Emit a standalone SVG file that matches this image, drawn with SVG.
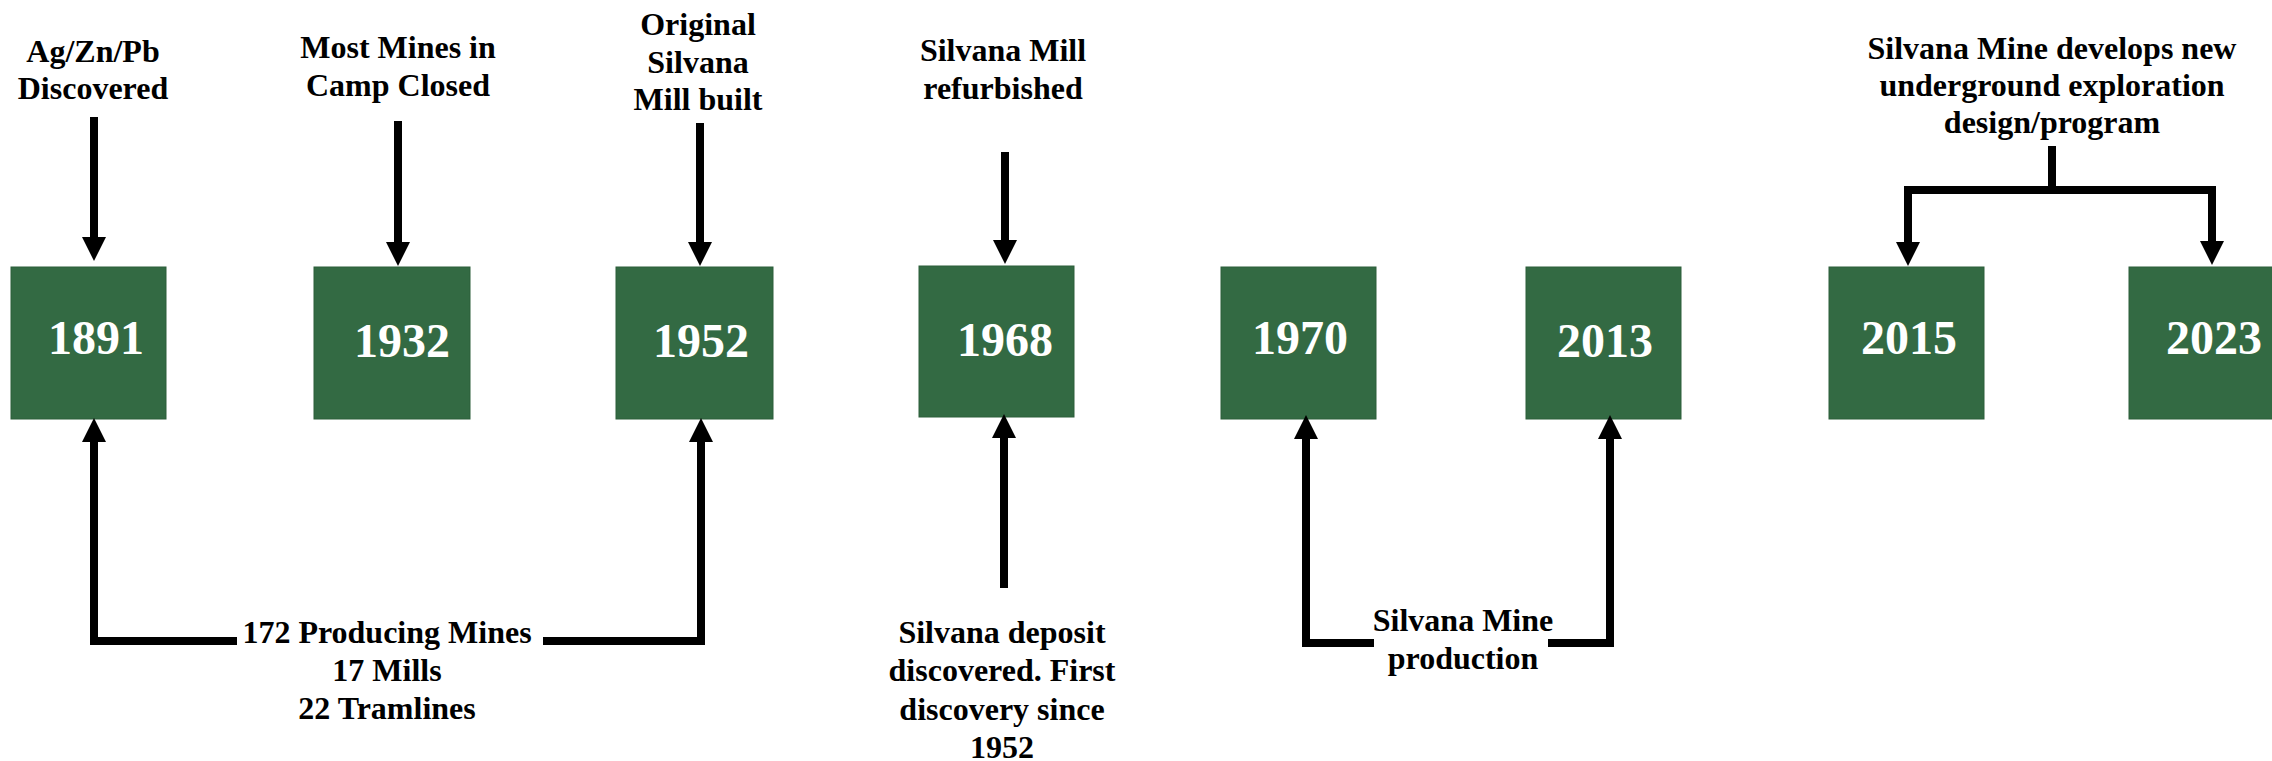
<svg xmlns="http://www.w3.org/2000/svg" width="2272" height="761" viewBox="0 0 2272 761">
<style>
.box{fill:#336a43;stroke:#2c5e3a;stroke-width:1}
.yr{font-family:"Liberation Serif","Times New Roman",Tinos,"DejaVu Serif",serif;font-weight:bold;font-size:48px;fill:#ffffff;text-anchor:middle}
.lbl{font-family:"Liberation Serif","Times New Roman",Tinos,"DejaVu Serif",serif;font-weight:bold;font-size:32px;fill:#000000;text-anchor:middle}
.con{fill:none;stroke:#000000;stroke-width:8;stroke-linejoin:miter;stroke-linecap:butt}
</style>
<defs>
<marker id="ah" markerUnits="userSpaceOnUse" viewBox="0 0 24 24" markerWidth="24" markerHeight="24" refX="1" refY="12" orient="auto">
<path d="M0,0 L24,12 L0,24 Z" fill="#000000"/>
</marker>
</defs>
<rect width="2272" height="761" fill="#ffffff"/>

<g id="node-1891"><rect class="box" x="11" y="267" width="155" height="152"/><text class="yr" x="96" y="354">1891</text></g>
<g id="node-1932"><rect class="box" x="314" y="267" width="156" height="152"/><text class="yr" x="402" y="357">1932</text></g>
<g id="node-1952"><rect class="box" x="616" y="267" width="157" height="152"/><text class="yr" x="701" y="357">1952</text></g>
<g id="node-1968"><rect class="box" x="919" y="266" width="155" height="151"/><text class="yr" x="1005" y="356">1968</text></g>
<g id="node-1970"><rect class="box" x="1221" y="267" width="155" height="152"/><text class="yr" x="1300" y="354">1970</text></g>
<g id="node-2013"><rect class="box" x="1526" y="267" width="155" height="152"/><text class="yr" x="1605" y="357">2013</text></g>
<g id="node-2015"><rect class="box" x="1829" y="267" width="155" height="152"/><text class="yr" x="1909" y="354">2015</text></g>
<g id="node-2023"><rect class="box" x="2129" y="267" width="155" height="152"/><text class="yr" x="2214" y="354">2023</text></g>

<g id="label-1891"><text class="lbl" x="93" y="62">Ag/Zn/Pb</text><text class="lbl" x="93" y="99">Discovered</text></g>
<g id="label-1932"><text class="lbl" x="398" y="58">Most Mines in</text><text class="lbl" x="398" y="96">Camp Closed</text></g>
<g id="label-1952"><text class="lbl" x="698" y="35">Original</text><text class="lbl" x="698" y="72.5">Silvana</text><text class="lbl" x="698" y="110">Mill built</text></g>
<g id="label-1968-top"><text class="lbl" x="1003" y="61">Silvana Mill</text><text class="lbl" x="1003" y="98.5">refurbished</text></g>
<g id="label-2015-2023"><text class="lbl" x="2052" y="59">Silvana Mine develops new</text><text class="lbl" x="2052" y="96">underground exploration</text><text class="lbl" x="2052" y="133">design/program</text></g>
<g id="label-1891-1952"><text class="lbl" x="387" y="643">172 Producing Mines</text><text class="lbl" x="387" y="681">17 Mills</text><text class="lbl" x="387" y="719">22 Tramlines</text></g>
<g id="label-1968-bottom"><text class="lbl" x="1002" y="643">Silvana deposit</text><text class="lbl" x="1002" y="681">discovered. First</text><text class="lbl" x="1002" y="719.5">discovery since</text><text class="lbl" x="1002" y="757.5">1952</text></g>
<g id="label-1970-2013"><text class="lbl" x="1463" y="631">Silvana Mine</text><text class="lbl" x="1463" y="669">production</text></g>

<g id="connectors">
<path class="con" d="M94,117 V238" marker-end="url(#ah)"/>
<path class="con" d="M398,121 V243" marker-end="url(#ah)"/>
<path class="con" d="M700,123 V243" marker-end="url(#ah)"/>
<path class="con" d="M1005,152 V241" marker-end="url(#ah)"/>
<path class="con" d="M2052,146 V190 H1908 V243" marker-end="url(#ah)"/>
<path class="con" d="M2052,190 H2212 V242" marker-end="url(#ah)"/>
<path class="con" d="M237,641 H94 V441" marker-end="url(#ah)"/>
<path class="con" d="M543,641 H701 V441" marker-end="url(#ah)"/>
<path class="con" d="M1004,588 V437" marker-end="url(#ah)"/>
<path class="con" d="M1374,643 H1306 V438" marker-end="url(#ah)"/>
<path class="con" d="M1548,643 H1610 V438" marker-end="url(#ah)"/>
</g>
</svg>
